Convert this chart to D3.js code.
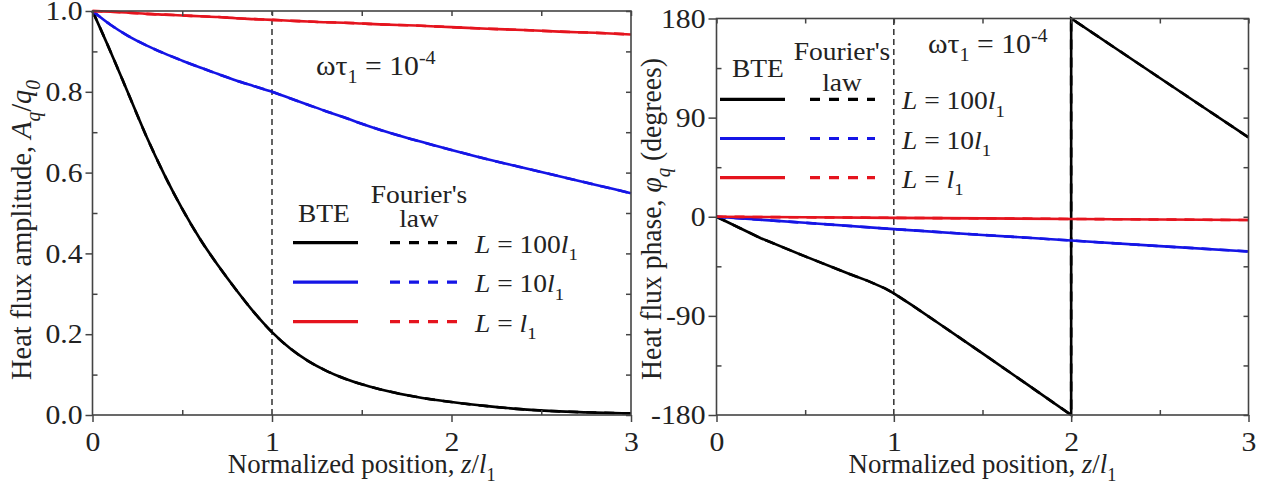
<!DOCTYPE html>
<html lang="en">
<head>
<meta charset="UTF-8">
<title>Heat flux amplitude and phase</title>
<script src="https://d3js.org/d3.v7.min.js"></script>
<style>
  body { margin: 0; background: #fff; }
  text { font-family: "Liberation Serif", "Times New Roman", serif; fill: #222; }
</style>
</head>
<body>
<script>
// ---- data (z in units of l1) ----
var ampZ   = [0, 0.1, 0.2, 0.3, 0.4, 0.5, 0.6, 0.7, 0.8, 0.9, 1.0, 1.1, 1.2, 1.3, 1.4, 1.5, 1.6, 1.8, 2.0, 2.2, 2.4, 2.6, 2.8, 3.0];
var amp100 = [1.0, 0.90, 0.795, 0.69, 0.595, 0.51, 0.435, 0.37, 0.31, 0.254, 0.205, 0.165, 0.134, 0.110, 0.091, 0.076, 0.064, 0.045, 0.032, 0.022, 0.014, 0.009, 0.006, 0.004];
var amp10  = [1.0, 0.966, 0.938, 0.915, 0.895, 0.877, 0.860, 0.844, 0.828, 0.814, 0.800, 0.784, 0.768, 0.752, 0.737, 0.721, 0.706, 0.680, 0.656, 0.633, 0.612, 0.591, 0.570, 0.549];
var amp1   = [1.0, 0.998, 0.996, 0.993, 0.991, 0.989, 0.987, 0.985, 0.982, 0.980, 0.978, 0.976, 0.974, 0.972, 0.971, 0.969, 0.967, 0.964, 0.960, 0.956, 0.953, 0.949, 0.946, 0.942];

var phZ100 = [0, 0.25, 0.5, 0.75, 0.85, 0.95, 1.0, 1.1, 1.25, 1.5, 1.75, 2.0, 2.0, 2.25, 2.5, 2.75, 3.0];
var ph100  = [0, -19.5, -36, -52, -58, -65, -69.5, -80, -96.5, -124, -152, -180, 180, 153, 126, 99, 72];
var phZ    = [0, 0.5, 1.0, 1.5, 2.0, 2.5, 3.0];
var ph10   = [0, -5.5, -11.2, -16.5, -21.6, -26.7, -31.5];
var ph1    = [0, -0.5, -1.0, -1.5, -2.0, -2.5, -3.0];

var xTicks = [0, 1, 2, 3];
var xMinor = [0.5, 1.5, 2.5];
var ampTicks = [0, 0.2, 0.4, 0.6, 0.8, 1.0];
var ampMinor = [0.1, 0.3, 0.5, 0.7, 0.9];
var phTicks = [-180, -90, 0, 90, 180];
var phMinor = [-135, -45, 45, 135];

var seriesN = ["100", "10", ""];   // L = N l1
var colors = ["#000000", "#1515e6", "#e5141e"];

var SX = 1.1;   // figure text is a bit wider than plain Times
var FS = 27;

var svg = d3.select("body").append("svg")
    .attr("width", 1268)
    .attr("height", 485);

function rich(t, parts, size) {
    var shift = 0;
    parts.forEach(function (p) {
        var s = t.append("tspan").text(p.t);
        var target = p.sub ? size * 0.3 : (p.sup ? -size * 0.42 : 0);
        if (target !== shift) { s.attr("dy", target - shift); shift = target; }
        if (p.i) s.attr("font-style", "italic");
        if (p.sub || p.sup) s.attr("font-size", size * 0.68);
    });
    return t;
}

function label(x, y, size, anchor) {
    return svg.append("text")
        .attr("transform", "translate(" + x + "," + y + ") scale(" + SX + ",1)")
        .attr("font-size", size)
        .attr("text-anchor", anchor || "start");
}

// title stretched to a given length along its own direction
function title(x, y, parts, len, rot) {
    var t = svg.append("text").attr("font-size", FS).attr("text-anchor", "middle");
    rich(t, parts, FS);
    var k = len / t.node().getComputedTextLength();
    var tr = "translate(" + x + "," + y + ")";
    tr += rot ? " rotate(" + rot + ") scale(" + k + "," + SX + ")" : " scale(" + k + ",1)";
    t.attr("transform", tr);
}

function lLabel(n) {
    return [{t: "L", i: true}, {t: " = " + n}, {t: "l", i: true}, {t: "1", sub: true}];
}

function drawPanel(p) {
    var x = d3.scaleLinear().domain([0, 3]).range(p.xr);
    var y = d3.scaleLinear().domain(p.yd).range(p.yr);
    var g = svg.append("g");

    // reference line at z = 1
    g.append("line")
        .attr("x1", x(1)).attr("x2", x(1))
        .attr("y1", y.range()[0]).attr("y2", y.range()[1])
        .attr("stroke", "#111").attr("stroke-width", 1.3)
        .attr("stroke-dasharray", "6,4");

    var line = d3.line()
        .x(function (d) { return x(d[0]); })
        .y(function (d) { return y(d[1]); })
        .curve(p.curve);

    p.series.forEach(function (s, i) {
        var pts = s.z.map(function (z, k) { return [z, s.v[k]]; });
        g.append("path").attr("d", line(pts))
            .attr("fill", "none").attr("stroke", colors[i]).attr("stroke-width", 2.6);
        // Fourier's law result lies on top of the BTE result
        g.append("path").attr("d", line(pts))
            .attr("fill", "none").attr("stroke", colors[i]).attr("stroke-width", 2.6)
            .attr("stroke-dasharray", "10,8");
    });

    // frame
    g.append("rect")
        .attr("x", p.xr[0]).attr("y", p.yr[1])
        .attr("width", p.xr[1] - p.xr[0]).attr("height", p.yr[0] - p.yr[1])
        .attr("fill", "none").attr("stroke", "#444").attr("stroke-width", 1.6);

    var axes = [
        [d3.axisBottom(x).tickValues(xTicks).tickSizeInner(7).tickSizeOuter(0).tickPadding(10).tickFormat(d3.format("d")), "translate(0," + p.yr[0] + ")", true],
        [d3.axisBottom(x).tickValues(xMinor).tickSize(-5).tickFormat(""), "translate(0," + p.yr[0] + ")"],
        [d3.axisTop(x).tickValues(xTicks.concat(xMinor)).tickSize(-5).tickFormat(""), "translate(0," + p.yr[1] + ")"],
        [d3.axisLeft(y).tickValues(p.yt).tickSizeInner(p.tl).tickSizeOuter(0).tickPadding(2).tickFormat(p.fmt), "translate(" + p.xr[0] + ",0)", true],
        [d3.axisLeft(y).tickValues(p.ym).tickSize(-5).tickFormat(""), "translate(" + p.xr[0] + ",0)"],
        [d3.axisRight(y).tickValues(p.yt.concat(p.ym)).tickSize(-5).tickFormat(""), "translate(" + p.xr[1] + ",0)"]
    ];
    axes.forEach(function (a) {
        var ag = g.append("g").attr("transform", a[1]).call(a[0]);
        ag.select(".domain").remove();
        ag.selectAll(".tick line").attr("stroke", "#444").attr("stroke-width", 1.5);
        if (a[2]) {
            ag.selectAll(".tick text")
                .attr("font-size", FS)
                .attr("transform", "scale(" + SX + ",1)");
        }
    });

    // axis titles
    title((p.xr[0] + p.xr[1]) / 2, 473,
        [{t: "Normalized position, "}, {t: "z", i: true}, {t: "/"}, {t: "l", i: true}, {t: "1", sub: true}], 268);
    title(p.ytx, p.yty, p.ytitle, p.ylen, -90);

    // legend
    var L = p.leg;
    label(L.bteX, L.bteY, 25).text("BTE");
    label(L.fouX, L.fouY, 25, "middle").text("Fourier's");
    label(L.fouX, L.lawY, 25, "middle").text("law");
    seriesN.forEach(function (n, i) {
        var ly = L.y0 + i * L.dy;
        g.append("line").attr("x1", L.s0).attr("x2", L.s1).attr("y1", ly).attr("y2", ly)
            .attr("stroke", colors[i]).attr("stroke-width", 3.2);
        g.append("line").attr("x1", L.d0).attr("x2", L.d1).attr("y1", ly).attr("y2", ly)
            .attr("stroke", colors[i]).attr("stroke-width", 3.2).attr("stroke-dasharray", "10,9");
        rich(label(L.tx, ly + 10, 25), lLabel(n), 25);
    });

    rich(label(p.otx, p.oty, FS), [{t: "ωτ"}, {t: "1", sub: true}, {t: " = 10"}, {t: "-4", sup: true}], FS);
}

drawPanel({
    xr: [92.5, 631], yr: [415, 11], yd: [0, 1],
    yt: ampTicks, ym: ampMinor, tl: 7, fmt: d3.format(".1f"),
    curve: d3.curveMonotoneX,
    series: [{z: ampZ, v: amp100}, {z: ampZ, v: amp10}, {z: ampZ, v: amp1}],
    ytx: 31, yty: 230, ylen: 300,
    ytitle: [{t: "Heat flux amplitude, "}, {t: "A", i: true}, {t: "q", i: true, sub: true}, {t: "/"}, {t: "q", i: true}, {t: "0", i: true, sub: true}],
    leg: {bteX: 298, bteY: 222, fouX: 419, fouY: 203, lawY: 227,
          y0: 242.7, dy: 39.5, s0: 293, s1: 358, d0: 390, d1: 457, tx: 475},
    otx: 316, oty: 75
});

drawPanel({
    xr: [716.5, 1248.5], yr: [415, 18.5], yd: [-180, 180],
    yt: phTicks, ym: phMinor, tl: 8, fmt: function (d) { return String(d); },
    curve: d3.curveLinear,
    series: [{z: phZ100, v: ph100}, {z: phZ, v: ph10}, {z: phZ, v: ph1}],
    ytx: 661, yty: 219, ylen: 322,
    ytitle: [{t: "Heat flux phase, "}, {t: "φ", i: true}, {t: "q", i: true, sub: true}, {t: " (degrees)"}],
    leg: {bteX: 732, bteY: 77, fouX: 842, fouY: 60, lawY: 91,
          y0: 99.3, dy: 39.2, s0: 720, s1: 785, d0: 810, d1: 875, tx: 902},
    otx: 928, oty: 53
});
</script>
</body>
</html>
